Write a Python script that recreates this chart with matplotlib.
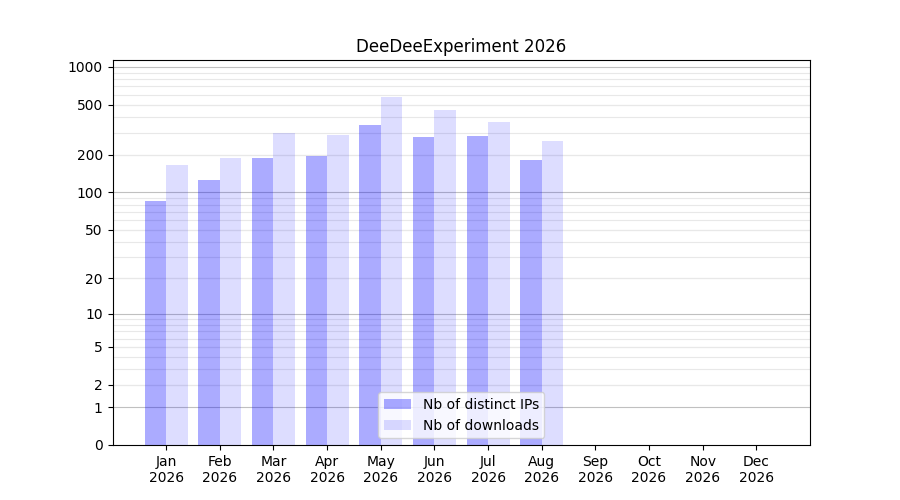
import matplotlib
matplotlib.use('Agg')
import matplotlib.pyplot as plt
from matplotlib.ticker import FixedLocator, FixedFormatter
import numpy as np

months = ['Jan', 'Feb', 'Mar', 'Apr', 'May', 'Jun', 'Jul', 'Aug',
          'Sep', 'Oct', 'Nov', 'Dec']
year = '2026'
ips = [85, 126, 189, 196, 345, 277, 282, 182]
downloads = [166, 189, 298, 288, 577, 455, 365, 258]

major = [0, 1, 2, 5, 10, 20, 50, 100, 200, 500, 1000]
minor = [m * 10**k for k in range(0, 4) for m in range(2, 10)]

fig = plt.figure(figsize=(9, 5), dpi=100)
ax = fig.add_subplot(111)

#log(1+x) scale so that zero fits
ax.set_yscale('function', functions=(lambda v: np.log10(1 + np.clip(v, 0, None)),
                                     lambda v: 10**v - 1))

x = np.arange(len(ips))
w = 0.4
ax.bar(x - w, ips, w, align='edge', color='blue', alpha=0.33, linewidth=0,
       label='Nb of distinct IPs')
ax.bar(x, downloads, w, align='edge', color='blue', alpha=0.135, linewidth=0,
       label='Nb of downloads')

ax.set_xlim(-1, 12)
ax.set_xticks(np.arange(len(months)))
ax.set_xticklabels([m + '\n' + year for m in months])

ax.set_ylim(0, 1135)
ax.yaxis.set_major_locator(FixedLocator(major))
ax.yaxis.set_major_formatter(FixedFormatter([str(v) for v in major]))
ax.yaxis.set_minor_locator(FixedLocator(minor))
ax.tick_params(axis='y', which='minor', length=0)

#grid: darker at decades, light elsewhere
for v in minor + [2, 5, 20, 50, 200, 500]:
    ax.axhline(v, color='#e8e8e8', linewidth=0.8, zorder=0)
for v in [1, 10, 100, 1000]:
    ax.axhline(v, color='#c0c0c0', linewidth=0.8, zorder=0)

ax.set_title('DeeDeeExperiment 2026')
ax.legend(loc='lower center')

fig.savefig('out.png')
